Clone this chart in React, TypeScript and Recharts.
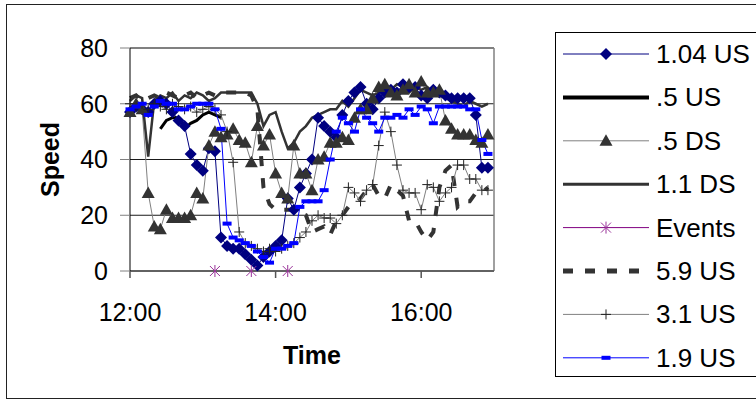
import { CartesianGrid, Label, Legend, Line, LineChart, ReferenceLine, XAxis, YAxis } from "recharts";

const times = [
  "12:00", "12:05", "12:10", "12:15", "12:20", "12:25", "12:30", "12:35", "12:40", "12:45",
  "12:50", "12:55", "13:00", "13:05", "13:10", "13:15", "13:20", "13:25", "13:30", "13:35",
  "13:40", "13:45", "13:50", "13:55", "14:00", "14:05", "14:10", "14:15", "14:20", "14:25",
  "14:30", "14:35", "14:40", "14:45", "14:50", "14:55", "15:00", "15:05", "15:10", "15:15",
  "15:20", "15:25", "15:30", "15:35", "15:40", "15:45", "15:50", "15:55", "16:00", "16:05",
  "16:10", "16:15", "16:20", "16:25", "16:30", "16:35", "16:40", "16:45", "16:50", "16:55",
];

const us104 = [
  57, 59, 58, 57, 60, 61, 60, 57, 54, 52, 42, 38, 36, 44, 43, 12, 9, 8, 8, 6,
  4, 2, 5, 7, 9, 11, 26, 22, 30, 35, 40, 55, 52, 50, 48, 56, 61, 64, 66, 60,
  58, 62, 64, 65, 64, 67, 66, 66, 63, 62, 65, 64, 63, 62, 62, 62, 62, 56, 37, 37,
];
const us05 = [
  null, null, null, null, null, 51, 54, 55, 55, 51, 53, 54, 56, 57, 56, 55, null, null, null, null,
  null, null, null, null, null, null, null, null, null, null, null, null, null, null, null, null, null, null, null, null,
  null, null, null, null, null, null, null, null, null, null, null, null, null, null, null, null, null, null, null, null,
];
const ds05 = [
  57, 60, 58, 28, 16, 15, 22, 19, 19, 19, 20, 28, 26, 45, 50, 48, 49, 51, 47, 46,
  39, 52, 45, 49, 35, 28, 26, 45, 35, 35, 29, 40, 41, 46, 46, 48, 47, 55, 58, 58,
  62, 66, 67, 64, 63, 65, 67, 64, 68, 64, 64, 65, 54, 51, 49, 49, 49, 47, 46, 49,
];
const ds11 = [
  61, 63, 62, 41, 61, 63, 62, 64, 61, 63, 62, 64, 63, 61, 62, 64, 64, 64, 64, 64,
  64, 60, 52, 56, 57, 50, 44, 46, 50, 52, 55, 56, 57, 58, 58, 61, 59, 62, 65, 64,
  63, 64, 66, 65, 67, 66, 64, 66, 65, 66, 64, 63, 62, 61, 60, 59, 61, 60, 59, 60,
];
const events = [
  null, null, null, null, null, null, null, null, null, null, null, null, null, null, 0, null, null, null, null, null,
  0, null, null, null, null, null, 0, null, null, null, null, null, null, null, null, null, null, null, null, null,
  null, null, null, null, null, null, null, null, null, null, null, null, null, null, null, null, null, null, null, null,
];
const us59 = [
  62, 63, 61, 62, 63, 62, 64, 63, 62, 63, 64, 62, 63, 64, 63, 64, 64, 64, 64, 64,
  63, 58, 30, 24, 22, 22, 22, 22, 21, 20, 14, 15, 16, 13, 18, 20, 23, 24, 26, 29,
  31, 27, 26, 31, 29, 27, 18, 18, 14, 11, 14, 30, 36, 38, 23, 25, 25, 28, 28, 30,
];
const us31 = [
  60, 59, 60, 58, 60, 59, 58, 60, 59, 58, 59, 57, 58, 59, 58, 56, 50, 39, 14, 10,
  9, 8, 7, 8, 7, 8, 9, 10, 12, 14, 18, 20, 19, 19, 17, 20, 30, 28, 25, 29,
  31, 45, 57, 50, 38, 29, 28, 28, 22, 31, 30, 25, 28, 30, 38, 38, 33, 33, 29, 29,
];
const us19 = [
  58, 59, 60, 56, 59, 61, 60, 60, 58, 58, 59, 60, 60, 60, 58, 51, 17, 12, 11, 10,
  9, 7, 5, 3, 8, 8, 9, 10, 23, 25, 25, 25, 29, 40, 50, 55, 53, 50, 58, 55,
  53, 50, 55, 55, 56, 55, 58, 56, 59, 58, 53, 59, 59, 59, 59, 59, 58, 58, 47, 42,
];

const yTicks = [0, 20, 40, 60, 80];
const xTickLabels = ["12:00", "14:00", "16:00"];

type Shape = "diamond" | "triangle" | "bar" | "plus" | "star" | "none";

type SeriesDef = {
  key: string;
  name: string;
  values: (number | null)[];
  stroke: string;
  width: number;
  dash?: string;
  shape: Shape;
  markColor: string;
  legendWidth: number;
};

const series: SeriesDef[] = [
  { key: "us104", name: "1.04 US", values: us104, stroke: "#000080", width: 1, shape: "diamond", markColor: "#000080", legendWidth: 1 },
  { key: "us05", name: ".5 US", values: us05, stroke: "#000000", width: 3, shape: "none", markColor: "#000", legendWidth: 4 },
  { key: "ds05", name: ".5 DS", values: ds05, stroke: "#808080", width: 1, shape: "triangle", markColor: "#333333", legendWidth: 1 },
  { key: "ds11", name: "1.1 DS", values: ds11, stroke: "#333333", width: 2.5, shape: "none", markColor: "#333", legendWidth: 3 },
  { key: "events", name: "Events", values: events, stroke: "#800080", width: 1, shape: "star", markColor: "#993399", legendWidth: 1 },
  { key: "us59", name: "5.9 US", values: us59, stroke: "#333333", width: 4, dash: "10 12", shape: "none", markColor: "#333", legendWidth: 5 },
  { key: "us31", name: "3.1 US", values: us31, stroke: "#808080", width: 1, shape: "plus", markColor: "#222222", legendWidth: 1 },
  { key: "us19", name: "1.9 US", values: us19, stroke: "#0000ff", width: 1, shape: "bar", markColor: "#0000ff", legendWidth: 1 },
];

const toMinutes = (t: string) => {
  const [h, m] = t.split(":").map(Number);
  return (h - 12) * 60 + m;
};

const data = times.map((t, i) => {
  const row: Record<string, number | null> = { t: toMinutes(t) };
  series.forEach((s) => {
    row[s.key] = s.values[i];
  });
  return row;
});

function Marker({ shape, x, y, color }: { shape: Shape; x: number; y: number; color: string }) {
  if (shape === "diamond")
    return <polygon points={`${x},${y - 6} ${x + 6},${y} ${x},${y + 6} ${x - 6},${y}`} fill={color} />;
  if (shape === "triangle")
    return <polygon points={`${x},${y - 6.5} ${x + 6.5},${y + 5} ${x - 6.5},${y + 5}`} fill={color} />;
  if (shape === "bar") return <rect x={x - 4.5} y={y - 2} width={9} height={4} fill={color} />;
  if (shape === "plus")
    return <path d={`M${x - 5},${y}H${x + 5}M${x},${y - 5}V${y + 5}`} stroke={color} strokeWidth={1} fill="none" />;
  if (shape === "star")
    return (
      <path
        d={`M${x - 5},${y - 5}L${x + 5},${y + 5}M${x - 5},${y + 5}L${x + 5},${y - 5}M${x},${y - 6}V${y + 6}`}
        stroke={color}
        strokeWidth={1}
        fill="none"
      />
    );
  return null;
}

function renderLegend() {
  return (
    <svg width={205} height={345} style={{ display: "block" }}>
      <rect x={0.5} y={0.5} width={215} height={344} fill="#fff" stroke="#000" />
      {series.map((s, i) => {
        const cy = 22 + i * 43.4;
        return (
          <g key={s.key}>
            <line x1={8} x2={94} y1={cy} y2={cy} stroke={s.stroke} strokeWidth={s.legendWidth} strokeDasharray={s.dash} />
            <Marker shape={s.shape} x={51} y={cy} color={s.markColor} />
            <text x={101} y={cy + 9} fontSize={26} fill="#000">
              {s.name}
            </text>
          </g>
        );
      })}
    </svg>
  );
}

export default function App() {
  return (
    <div
      style={{
        position: "absolute",
        left: 0,
        top: 0,
        width: 756,
        height: 405,
        overflow: "hidden",
        background: "#fff",
        fontFamily: "'Liberation Sans', Arial, sans-serif",
      }}
    >
      <div style={{ position: "absolute", left: 6, top: 4, width: 780, height: 393, border: "1.5px solid #222" }} />
      <LineChart
        width={756}
        height={405}
        data={data}
        margin={{ top: 48, right: 262, bottom: 104, left: 40 }}
        style={{ fontFamily: "'Liberation Sans', Arial, sans-serif" }}
      >
        <CartesianGrid vertical={false} stroke="#1a1a1a" strokeWidth={1.2} />
        <XAxis
          type="number"
          dataKey="t"
          domain={[0, 300]}
          ticks={[0, 120, 240]}
          tickFormatter={(v: number) => xTickLabels[v / 120]}
          height={30}
          stroke="#555"
          strokeWidth={1.5}
          tickSize={7}
          tickMargin={25}
          tick={{ fill: "#000", fontSize: 25 }}
        >
          <Label
            content={({ viewBox }: any) => (
              <text
                x={viewBox.x + viewBox.width / 2}
                y={viewBox.y + viewBox.height + 63}
                textAnchor="middle"
                fontSize={25}
                fontWeight="bold"
                fill="#000"
              >
                Time
              </text>
            )}
          />
        </XAxis>
        <YAxis
          type="number"
          domain={[0, 80]}
          ticks={yTicks}
          width={90}
          axisLine={{ stroke: "#000" }}
          tickLine={{ stroke: "#808080" }}
          tickSize={10}
          tickMargin={12}
          tick={{ fill: "#000", fontSize: 25 }}
        >
          <Label
            content={({ viewBox }: any) => {
              const x = viewBox.x + 10;
              const y = viewBox.y + viewBox.height / 2;
              return (
                <text x={x} y={y} transform={`rotate(-90 ${x} ${y})`} textAnchor="middle" dominantBaseline="central" fontSize={25} fontWeight="bold" fill="#000">
                  Speed
                </text>
              );
            }}
          />
        </YAxis>
        <ReferenceLine y={80} stroke="#808080" strokeWidth={2} />
        <ReferenceLine x={300} stroke="#808080" strokeWidth={1.5} />
        {series.map((s) => (
          <Line
            key={s.key}
            dataKey={s.key}
            name={s.name}
            stroke={s.key === "events" ? "none" : s.stroke}
            strokeWidth={s.width}
            strokeDasharray={s.dash}
            isAnimationActive={false}
            connectNulls={false}
            activeDot={false}
            dot={(p: any) =>
              p.value == null || p.cy == null ? (
                <g key={`${s.key}-${p.index}`} />
              ) : (
                <g key={`${s.key}-${p.index}`}>
                  <Marker shape={s.shape} x={p.cx} y={p.cy} color={s.markColor} />
                </g>
              )
            }
          />
        ))}
        <Legend
          layout="vertical"
          align="center"
          verticalAlign="middle"
          content={renderLegend}
          wrapperStyle={{ left: 555, top: 32, width: 205, height: 345 }}
        />
      </LineChart>
    </div>
  );
}
